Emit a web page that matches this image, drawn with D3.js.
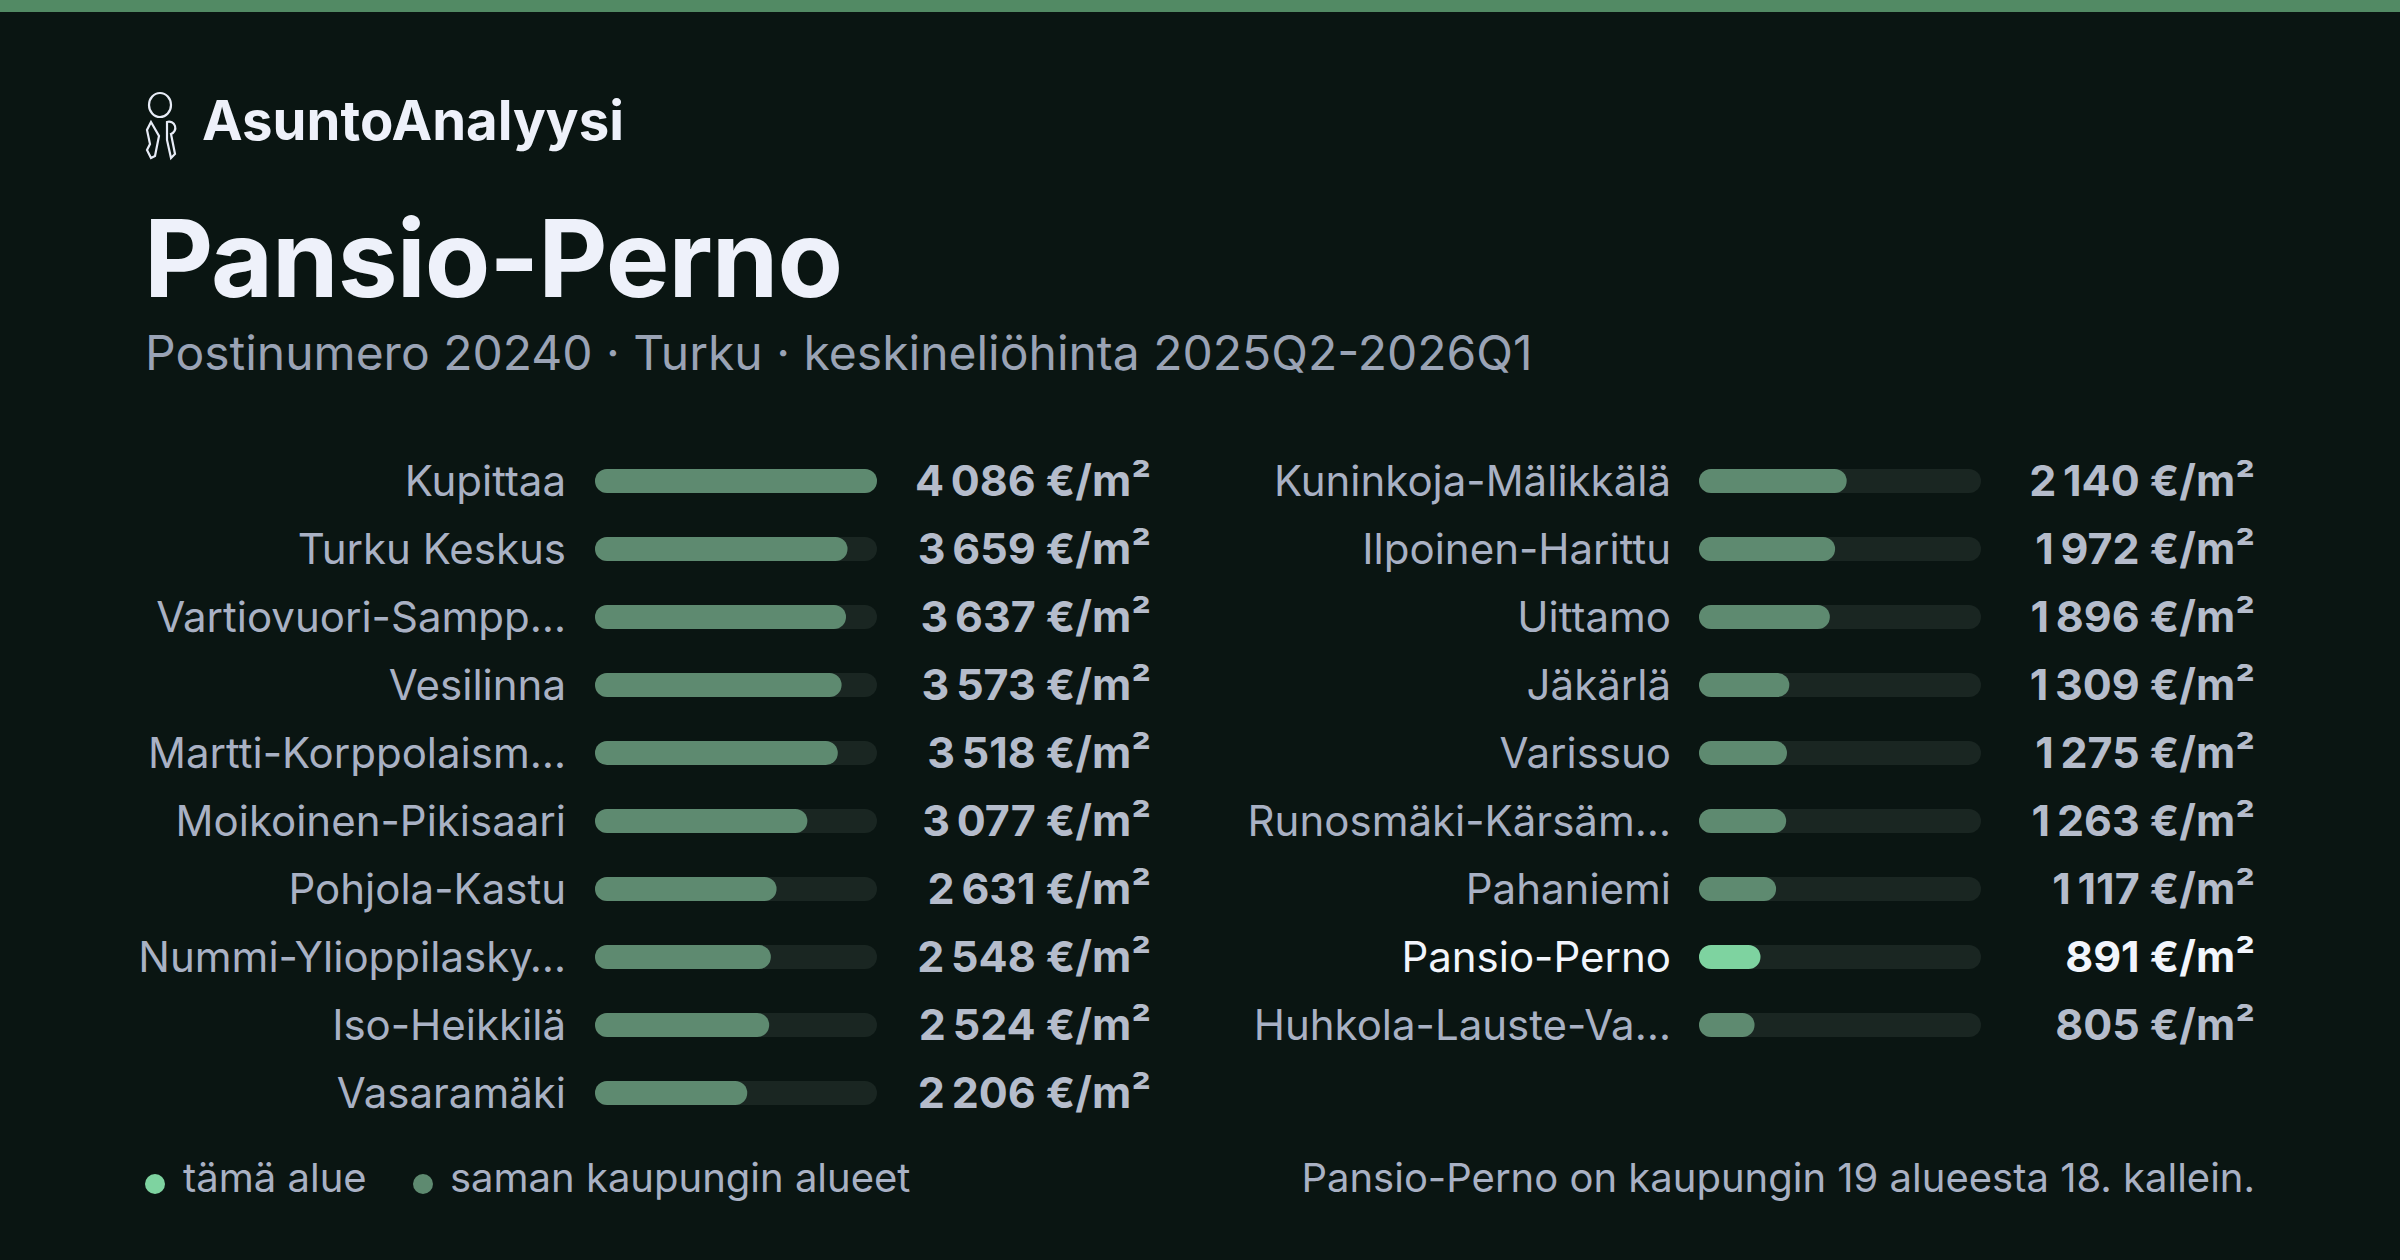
<!DOCTYPE html>
<html><head><meta charset="utf-8">
<script src="https://cdn.jsdelivr.net/npm/d3@7"></script>
<style>html,body{margin:0;padding:0;background:#0a1512;}svg{display:block;font-family:Inter,"Noto Sans",sans-serif;}</style>
</head><body>
<script>
const areas = ["Kupittaa","Turku Keskus","Vartiovuori-Sampp…","Vesilinna","Martti-Korppolaism…","Moikoinen-Pikisaari","Pohjola-Kastu","Nummi-Ylioppilasky…","Iso-Heikkilä","Vasaramäki","Kuninkoja-Mälikkälä","Ilpoinen-Harittu","Uittamo","Jäkärlä","Varissuo","Runosmäki-Kärsäm…","Pahaniemi","Pansio-Perno","Huhkola-Lauste-Va…"];
const prices = [4086,3659,3637,3573,3518,3077,2631,2548,2524,2206,2140,1972,1896,1309,1275,1263,1117,891,805];
const highlight = "Pansio-Perno";
const W=2400,H=1260;
const svg=d3.select("body").append("svg").attr("width",W).attr("height",H);
svg.append("rect").attr("width",W).attr("height",H).attr("fill","#0a1512");
svg.append("rect").attr("width",W).attr("height",12).attr("fill","#528a64");
const g=svg.append("g").attr("transform","translate(145,92)").attr("fill","none").attr("stroke","#e8ecf7").attr("stroke-width",2.2);
g.append("ellipse").attr("cx",15).attr("cy",13).attr("rx",11).attr("ry",12);
g.append("path").attr("d","M6,30 l-4,8 l3,14 l-3,6 l4,8 l4,-2 l4,-20 z");
g.append("path").attr("d","M22,30 a6,6 0 1,1 4,12 l4,20 l-4,4 l-4,-18 z");
svg.append("text").attr("x",202).attr("y",140).attr("fill","#eef1fa").attr("font-size",54.5).attr("font-weight",700).text("AsuntoAnalyysi");
svg.append("text").attr("x",144).attr("y",297).attr("fill","#eef1fa").attr("font-size",107).attr("font-weight",700).attr("letter-spacing",-1).text("Pansio-Perno");
svg.append("text").attr("x",145).attr("y",370).attr("fill","#9aa3b5").attr("font-size",48).text("Postinumero 20240 · Turku · keskineliöhinta 2025Q2-2026Q1");
const x=d3.scaleLinear().domain([0,d3.max(prices)]).range([0,282]);
const fmt=v=>d3.format(",")(v).replace(/,/g,"\u202F")+" €/m²";
const y=d3.scaleLinear().domain([0,1]).range([481,549]);
const cols=[{lab:566,bar:595,val:1151},{lab:1671,bar:1699,val:2255}];
areas.forEach((a,i)=>{
  const c=cols[i<10?0:1], r=i<10?i:i-10, cy=y(r), hl=a===highlight;
  svg.append("text").attr("x",c.lab).attr("y",cy).attr("dy","0.36em").attr("text-anchor","end").attr("font-size",42).attr("fill",hl?"#f2f5fc":"#a9b1c4").text(a);
  svg.append("rect").attr("x",c.bar).attr("y",cy-12).attr("width",282).attr("height",24).attr("rx",12).attr("fill","#1a2622");
  svg.append("rect").attr("x",c.bar).attr("y",cy-12).attr("width",x(prices[i])).attr("height",24).attr("rx",12).attr("fill",hl?"#7ed3a0":"#5e8a70");
  svg.append("text").attr("x",c.val).attr("y",cy).attr("dy","0.36em").attr("text-anchor","end").attr("font-size",43).attr("font-weight",700).attr("fill",hl?"#f2f5fc":"#b5bccb").text(fmt(prices[i]));
});
svg.append("circle").attr("cx",155).attr("cy",1184).attr("r",10).attr("fill","#7ed3a0");
svg.append("text").attr("x",183).attr("y",1178).attr("dy","0.36em").attr("font-size",40).attr("fill","#a9b1c4").text("tämä alue");
svg.append("circle").attr("cx",423).attr("cy",1184).attr("r",10).attr("fill","#5e8a70");
svg.append("text").attr("x",450).attr("y",1178).attr("dy","0.36em").attr("font-size",40).attr("fill","#a9b1c4").text("saman kaupungin alueet");
svg.append("text").attr("x",2255).attr("y",1178).attr("dy","0.36em").attr("text-anchor","end").attr("font-size",40).attr("fill","#a9b1c4").text("Pansio-Perno on kaupungin 19 alueesta 18. kallein.");
</script></body></html>
